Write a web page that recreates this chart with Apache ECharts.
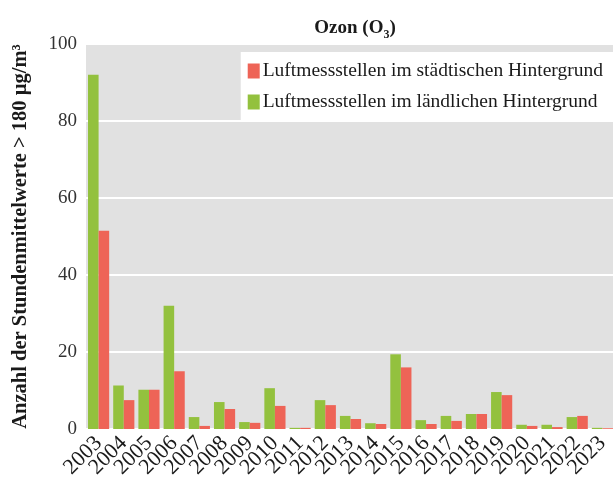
<!DOCTYPE html>
<html>
<head>
<meta charset="utf-8">
<script src="https://cdn.jsdelivr.net/npm/echarts@6/dist/echarts.min.js"></script>
<style>
  html, body { margin: 0; padding: 0; background: #fff; }
  #chart { width: 613px; height: 483px; }
</style>
</head>
<body>
<div id="chart"></div>
<script>
// Jahre (x-Achse)
const years = ['2003', '2004', '2005', '2006', '2007', '2008', '2009', '2010', '2011', '2012', '2013',
  '2014', '2015', '2016', '2017', '2018', '2019', '2020', '2021', '2022', '2023'];
// Luftmessstellen im ländlichen Hintergrund (grün)
const rural = [92, 11.3, 10.2, 32, 3.1, 7, 1.8, 10.6, 0.3, 7.5, 3.4,
  1.5, 19.4, 2.3, 3.4, 3.9, 9.6, 1.1, 1.1, 3.1, 0.3];
// Luftmessstellen im städtischen Hintergrund (rot)
const urban = [51.5, 7.5, 10.2, 15, 0.8, 5.2, 1.6, 6, 0.3, 6.2, 2.6,
  1.3, 16, 1.3, 2.1, 3.9, 8.8, 0.8, 0.5, 3.4, 0.2];
const yTicks = [0, 20, 40, 60, 80, 100];

const serif = '"Liberation Serif", "DejaVu Serif", serif';

let myChart = echarts.init(document.getElementById('chart'));

const option = {
  animation: false,
  textStyle: { fontFamily: serif },
  title: {
    text: 'Ozon (O{sub|3})',
    left: 350,
    textAlign: 'center',
    top: 10,
    textStyle: {
      fontFamily: serif,
      fontWeight: 'bold',
      fontSize: 19,
      color: '#1a1a1a',
      rich: {
        sub: { fontFamily: serif, fontWeight: 'bold', fontSize: 12, color: '#1a1a1a', verticalAlign: 'bottom', padding: [14, 0, 0, 0] }
      }
    }
  },
  legend: {
    orient: 'vertical',
    right: 0,
    top: 52,
    backgroundColor: '#fff',
    padding: [9, 10, 9, 7],
    itemGap: 11,
    itemWidth: 12,
    itemHeight: 15,
    icon: 'rect',
    data: ['Luftmessstellen im städtischen Hintergrund', 'Luftmessstellen im ländlichen Hintergrund'],
    textStyle: { fontFamily: serif, fontSize: 19.5, color: '#1a1a1a', padding: [0, 0, 0, -2] }
  },
  grid: {
    left: 86,
    top: 44,
    width: 529,
    bottom: 54,
    containLabel: false,
    outerBoundsMode: 'none',
    show: true,
    backgroundColor: '#e1e1e1',
    borderWidth: 0
  },
  xAxis: {
    type: 'category',
    data: years,
    axisLine: { show: false },
    axisTick: { show: false },
    axisLabel: {
      rotate: 45,
      fontFamily: serif,
      fontSize: 22,
      color: '#1a1a1a',
      margin: 11,
      interval: 0
    }
  },
  yAxis: {
    type: 'value',
    min: 0,
    max: 100,
    interval: 20,
    name: 'Anzahl der Stundenmittelwerte > 180 µg/m³',
    nameLocation: 'middle',
    nameGap: 55,
    nameTextStyle: { fontFamily: serif, fontWeight: 'bold', fontSize: 20.5, color: '#1a1a1a' },
    axisLine: { show: false },
    axisTick: { show: false },
    axisLabel: {
      fontFamily: serif,
      fontSize: 19,
      color: '#333',
      margin: 9,
      formatter: (v) => (yTicks.includes(v) ? String(v) : '')
    },
    splitLine: { lineStyle: { color: '#ffffff', width: 2 } }
  },
  series: [
    {
      name: 'Luftmessstellen im ländlichen Hintergrund',
      type: 'bar',
      data: rural,
      barGap: '0%',
      barCategoryGap: '16%',
      itemStyle: { color: '#93c13e' }
    },
    {
      name: 'Luftmessstellen im städtischen Hintergrund',
      type: 'bar',
      data: urban,
      itemStyle: { color: '#ee6457' }
    }
  ]
};

myChart.setOption(option);
</script>
</body>
</html>
